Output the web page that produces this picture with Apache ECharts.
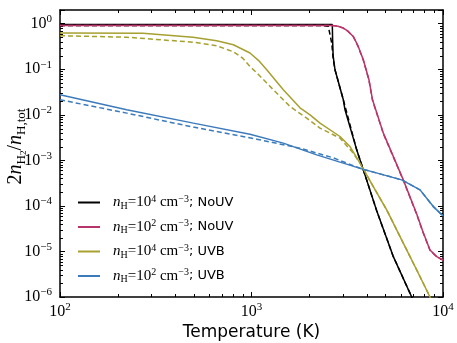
<!DOCTYPE html>
<html><head><meta charset="utf-8">
<script src="https://cdn.jsdelivr.net/npm/echarts@6/dist/echarts.min.js"></script>
<style>html,body{margin:0;padding:0;background:#fff}#c{width:457px;height:343px}</style>
</head><body><div id="c"></div>
<script>
// axis ticks
const xMajor = [100, 1000, 10000];
const yMajor = [1e-6, 1e-5, 1e-4, 1e-3, 1e-2, 1e-1, 1];
const minorMult = [2, 3, 4, 5, 6, 7, 8, 9];

// legend text parts
const legendNames = ['nH4_NoUV', 'nH2_NoUV', 'nH4_UVB', 'nH2_UVB'];
const legendExp = ['4', '2', '4', '2'];
const legendTag = ['NoUV', 'NoUV', 'UVB', 'UVB'];

// n_H = 1e4, NoUV (black)
const blackT = [100, 2642, 2652, 2668, 2729, 3016, 3078, 3543, 3822, 4507, 5481, 6865, 7100];
const blackV = [0.965, 0.965, 0.45, 0.2, 0.0975, 0.0214, 0.0129, 0.0017, 6.5e-4, 7.8e-5, 8.0e-6, 1.0e-6, 7e-7];
const blackDT = [100, 2300, 2518, 2623, 2674, 2729, 3016, 3543, 3822, 4507, 5481, 6865, 7100];
const blackDV = [0.918, 0.918, 0.88, 0.376, 0.162, 0.0975, 0.0214, 0.0017, 6.5e-4, 7.8e-5, 8.0e-6, 1.0e-6, 7e-7];

// n_H = 1e2, NoUV (red)
const redT = [100, 2642, 2830, 3016, 3192, 3400, 3597, 3836, 4107, 4285, 4880, 5416, 6204, 7291, 7865, 8552, 9271, 10000];
const redV = [0.918, 0.918, 0.881, 0.804, 0.684, 0.526, 0.328, 0.162, 0.0588, 0.0214, 0.00396, 1.42e-3, 3.73e-4, 6.67e-5, 2.68e-5, 1.08e-5, 7.69e-6, 6.5e-6];
const redDT = redT;
const redDV = [0.918, 0.918, 0.878, 0.80, 0.678, 0.52, 0.322, 0.158, 0.057, 0.0208, 0.00385, 1.39e-3, 3.65e-4, 6.5e-5, 2.62e-5, 1.06e-5, 7.6e-6, 6.45e-6];

// n_H = 1e4, UVB (olive)
const oliveT = [100, 271, 495, 658, 804, 982, 1090, 1201, 1330, 1466, 1792, 2021, 2279, 2898, 3269, 3687, 4325, 5082, 5964, 7291, 8552, 8800];
const oliveV = [0.625, 0.618, 0.505, 0.423, 0.345, 0.227, 0.155, 0.0975, 0.058, 0.0354, 0.01426, 0.0100, 0.00657, 0.00334, 0.00201, 8.67e-4, 2.66e-4, 8.17e-5, 2.12e-5, 3.92e-6, 1.0e-6, 8e-7];
const oliveDT = [100, 223, 497, 658, 804, 900, 982, 1090, 1201, 1589, 1943, 2279, 2898, 3388, 3687, 4325, 5082, 5964, 7291, 8552, 8800];
const oliveDV = [0.545, 0.505, 0.392, 0.328, 0.2425, 0.175, 0.115, 0.076, 0.0497, 0.01522, 0.00846, 0.00510, 0.00308, 0.00146, 8.67e-4, 2.66e-4, 8.17e-5, 2.12e-5, 3.92e-6, 1.0e-6, 8e-7];

// n_H = 1e2, UVB (blue)
const blueT = [100, 223, 497, 982, 1466, 2190, 3763, 6086, 7586, 8899, 10000];
const blueV = [0.0275, 0.01288, 0.00657, 0.00376, 0.00239, 0.00132, 6.5e-4, 3.73e-4, 2.25e-4, 9.66e-5, 6.03e-5];
const blueDT = [100, 223, 497, 1065, 1792, 2664, 3763, 6086, 7586, 8899, 10000];
const blueDV = [0.0214, 0.01089, 0.00537, 0.00292, 0.00185, 0.00114, 6.5e-4, 3.73e-4, 2.25e-4, 9.66e-5, 6.03e-5];

const zip = (a, b) => a.map((v, i) => [v, b[i]]);
const COL = { black: '#000000', red: '#b9346a', olive: '#a6a030', blue: '#3c7bbb' };
const SERIF = 'Liberation Serif';

function mk(name, T, V, color, dashed) {
  return {
    name: name, type: 'line', data: zip(T, V), symbol: 'none', smooth: false, clip: true,
    lineStyle: { color: color, width: 1.5, type: dashed ? [5, 3] : 'solid' },
    itemStyle: { color: color }, z: dashed ? 3 : 2
  };
}

function powLabel(v) {
  const e = Math.log10(v);
  if (Math.abs(e - Math.round(e)) > 1e-6) return '';
  const r = Math.round(e);
  return '{b|10}{s|' + (r < 0 ? '\u2212' + (-r) : r) + '}';
}
const tickRich = {
  b: { fontFamily: SERIF, fontSize: 16, color: '#000', lineHeight: 20 },
  s: { fontFamily: SERIF, fontSize: 11, color: '#000', verticalAlign: 'top', lineHeight: 11 }
};

const chart = echarts.init(document.getElementById('c'), null, { renderer: 'canvas' });
const axisCommon = {
  axisLine: { show: true, lineStyle: { color: '#000', width: 1.5 } },
  axisTick: { show: true, inside: true, length: 5, lineStyle: { color: '#000', width: 1 } },
  splitLine: { show: false }, minorTick: { show: false }
};
chart.setOption({
  animation: false,
  backgroundColor: '#fff',
  grid: { left: 60, right: 14, top: 10, bottom: 46, containLabel: false, outerBoundsMode: 'none' },
  xAxis: [
    Object.assign({
      type: 'log', logBase: 10, min: 100, max: 10000, position: 'bottom',
      name: 'Temperature (K)', nameLocation: 'middle', nameGap: 27, nameMoveOverlap: false,
      nameTextStyle: { fontFamily: 'DejaVu Sans', fontSize: 17, color: '#000' },
      axisLabel: { formatter: powLabel, rich: tickRich, margin: 5 }
    }, axisCommon),
    Object.assign({
      type: 'log', logBase: 10, min: 100, max: 10000, position: 'top',
      axisLabel: { show: false }
    }, axisCommon)
  ],
  yAxis: [
    Object.assign({
      type: 'log', logBase: 10, min: 1e-6, max: 2, position: 'left',
      name: '{m|2}{i|n}{sub|H}{ss|2}{m|/}{i|n}{sub|H,tot}', nameLocation: 'middle', nameGap: 32, nameRotate: 90,
      nameMoveOverlap: false,
      nameTextStyle: {
        color: '#000', padding: [0, 0, 0, 14],
        rich: {
          m: { fontFamily: SERIF, fontSize: 20, lineHeight: 24, color: '#000' },
          i: { fontFamily: SERIF, fontSize: 20, fontStyle: 'italic', lineHeight: 24, color: '#000' },
          sub: { fontFamily: SERIF, fontSize: 13, verticalAlign: 'bottom', lineHeight: 12, color: '#000' },
          ss: { fontFamily: SERIF, fontSize: 9, verticalAlign: 'bottom', lineHeight: 7, color: '#000' }
        }
      },
      axisLabel: { formatter: powLabel, rich: tickRich, margin: 8 }
    }, axisCommon),
    Object.assign({
      type: 'log', logBase: 10, min: 1e-6, max: 2, position: 'right',
      axisLabel: { show: false }
    }, axisCommon)
  ],
  legend: {
    data: legendNames, orient: 'vertical', left: 73, top: 189, itemGap: 7.5,
    itemWidth: 22, itemHeight: 17, icon: 'path://M0,7.5L22,7.5L22,9.5L0,9.5Z',
    formatter: function (name) {
      const i = legendNames.indexOf(name);
      return '{i|n}{sub|H}{m|=10}{sup|' + legendExp[i] + '}{m| cm}{sup|\u22123}{t|; ' + legendTag[i] + '}';
    },
    textStyle: {
      color: '#000', padding: [0, 0, 0, 8],
      rich: {
        i: { fontFamily: SERIF, fontStyle: 'italic', fontSize: 15, lineHeight: 17, color: '#000' },
        sub: { fontFamily: SERIF, fontSize: 10, verticalAlign: 'bottom', lineHeight: 10, color: '#000' },
        m: { fontFamily: SERIF, fontSize: 15, lineHeight: 17, color: '#000' },
        sup: { fontFamily: SERIF, fontSize: 10, verticalAlign: 'top', lineHeight: 9, color: '#000' },
        t: { fontFamily: 'DejaVu Sans', fontSize: 13, lineHeight: 17, color: '#000' }
      }
    }
  },
  series: [
    mk('nH4_NoUV', blackT, blackV, COL.black, false),
    mk('nH4_NoUV_d', blackDT, blackDV, COL.black, true),
    mk('nH2_NoUV', redT, redV, COL.red, false),
    mk('nH2_NoUV_d', redDT, redDV, COL.red, true),
    mk('nH4_UVB', oliveT, oliveV, COL.olive, false),
    mk('nH4_UVB_d', oliveDT, oliveDV, COL.olive, true),
    mk('nH2_UVB', blueT, blueV, COL.blue, false),
    mk('nH2_UVB_d', blueDT, blueDV, COL.blue, true)
  ]
});

// minor ticks at 2..9 x 10^k, positioned via the axes' own scales
(function () {
  const g = [];
  const yb = chart.convertToPixel({ yAxisIndex: 0 }, 1e-6);
  const yt = chart.convertToPixel({ yAxisIndex: 0 }, 2);
  const xl = chart.convertToPixel({ xAxisIndex: 0 }, 100);
  const xr = chart.convertToPixel({ xAxisIndex: 0 }, 10000);
  const st = { stroke: '#000', lineWidth: 1 };
  const L = 3;
  [100, 1000].forEach(function (d) {
    minorMult.forEach(function (m) {
      const px = Math.round(chart.convertToPixel({ xAxisIndex: 0 }, m * d)) + 0.5;
      g.push({ type: 'line', shape: { x1: px, y1: yb, x2: px, y2: yb - L }, style: st, silent: true });
      g.push({ type: 'line', shape: { x1: px, y1: yt, x2: px, y2: yt + L }, style: st, silent: true });
    });
  });
  [1e-6, 1e-5, 1e-4, 1e-3, 1e-2, 1e-1].forEach(function (d) {
    minorMult.forEach(function (m) {
      const py = Math.round(chart.convertToPixel({ yAxisIndex: 0 }, m * d)) + 0.5;
      g.push({ type: 'line', shape: { x1: xl, y1: py, x2: xl + L, y2: py }, style: st, silent: true });
      g.push({ type: 'line', shape: { x1: xr, y1: py, x2: xr - L, y2: py }, style: st, silent: true });
    });
  });
  chart.setOption({ graphic: g });
})();
</script>
</body></html>
